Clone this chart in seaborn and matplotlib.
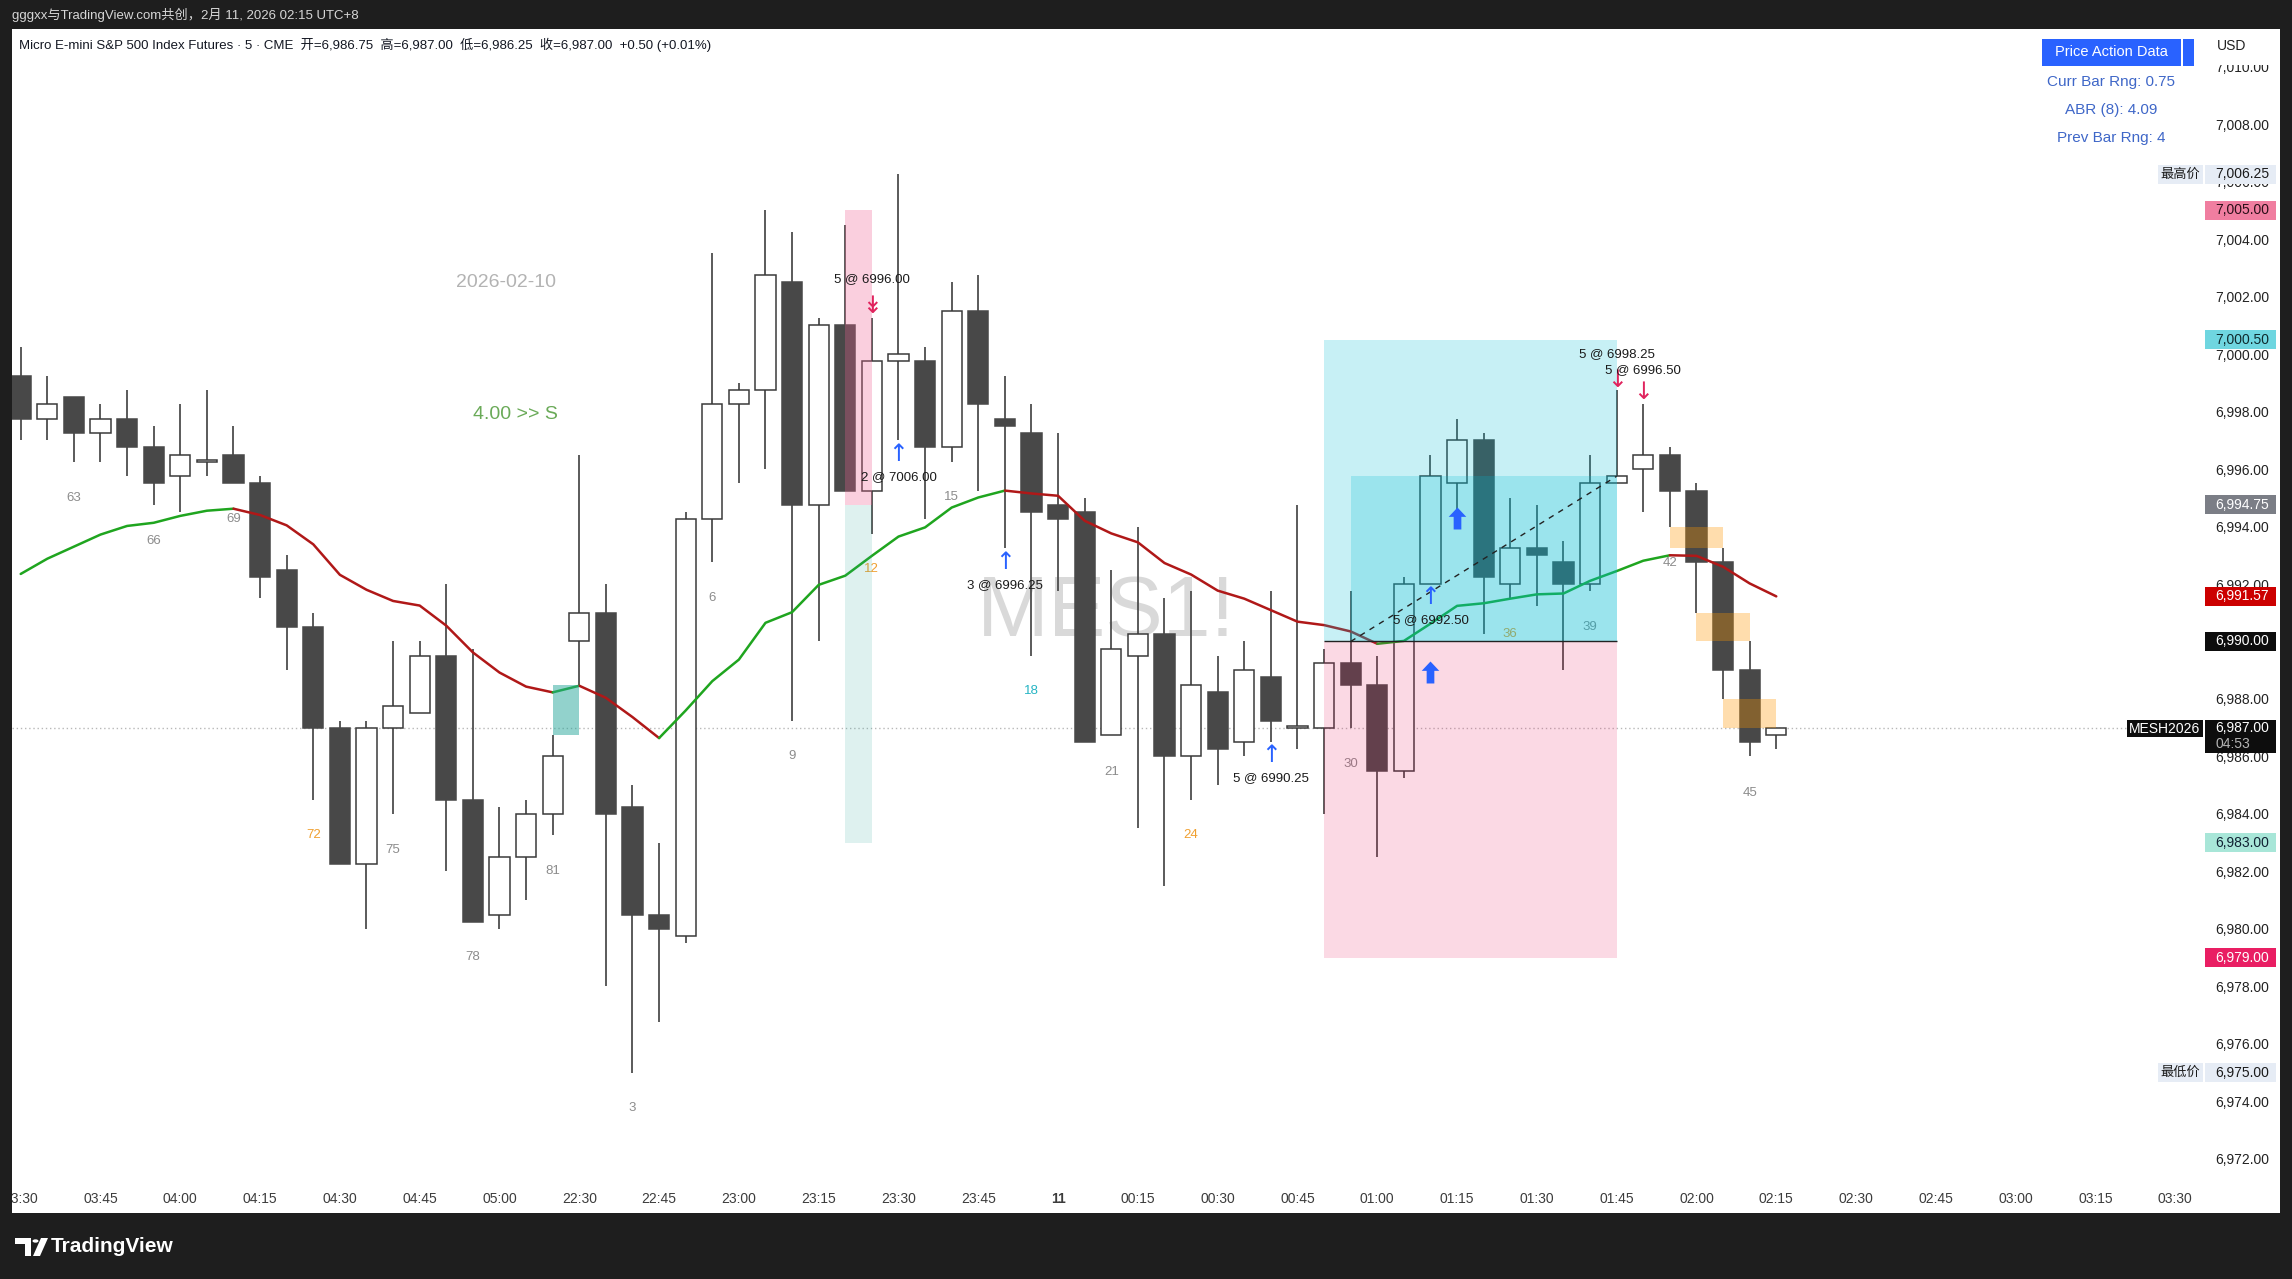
import matplotlib
import matplotlib.pyplot as plt
import matplotlib.transforms as mtransforms
import numpy as np
import pandas as pd
import seaborn as sns
from matplotlib.patches import Circle, Polygon, Rectangle
from matplotlib.path import Path

matplotlib.use("Agg")

# ---------------------------------------------------------------------------
# Data
# ---------------------------------------------------------------------------

bar_open = [
    6999.25, 6997.75, 6998.50, 6997.25, 6997.75, 6996.75, 6995.75, 6996.25, 6996.50, 6995.50,
    6992.50, 6990.50, 6987.00, 6982.25, 6987.00, 6987.50, 6989.50, 6984.50, 6980.50, 6982.50,
    6984.00, 6990.00, 6991.00, 6984.25, 6980.50, 6979.75, 6994.25, 6998.25, 6998.75, 7002.50,
    6994.75, 7001.00, 6995.25, 6999.75, 6999.75, 6996.75, 7001.50, 6997.75, 6997.25, 6994.75,
    6994.50, 6986.75, 6989.50, 6990.25, 6986.00, 6988.25, 6986.50, 6988.75, 6987.00, 6987.00,
    6989.25, 6988.50, 6985.50, 6992.00, 6995.50, 6997.00, 6992.00, 6993.25, 6992.75, 6992.00,
    6995.50, 6996.00, 6996.50, 6995.25, 6992.75, 6989.00, 6986.75,
]
bar_high = [
    7000.25, 6999.25, 6998.50, 6998.25, 6998.75, 6997.50, 6998.25, 6998.75, 6997.50, 6995.75,
    6993.00, 6991.00, 6987.25, 6987.25, 6990.00, 6990.00, 6992.00, 6989.75, 6984.25, 6984.50,
    6986.75, 6996.50, 6992.00, 6985.00, 6983.00, 6994.50, 7003.50, 6999.00, 7005.00, 7004.25,
    7001.25, 7004.50, 7001.25, 7006.25, 7000.25, 7002.50, 7002.75, 6999.25, 6998.25, 6997.25,
    6995.00, 6992.50, 6994.00, 6991.50, 6991.75, 6989.50, 6990.00, 6991.75, 6994.75, 6989.75,
    6991.75, 6989.50, 6992.25, 6996.50, 6997.75, 6997.25, 6995.00, 6994.75, 6993.50, 6996.50,
    6998.75, 6998.25, 6996.75, 6995.50, 6993.25, 6990.00, 6987.00,
]
bar_low = [
    6997.00, 6997.00, 6996.25, 6996.25, 6995.75, 6994.75, 6994.50, 6995.75, 6995.50, 6991.50,
    6989.00, 6984.50, 6982.25, 6980.00, 6984.00, 6987.50, 6982.00, 6980.25, 6980.00, 6981.00,
    6983.25, 6988.50, 6978.00, 6975.00, 6976.75, 6979.50, 6992.75, 6995.50, 6996.00, 6987.25,
    6990.00, 6995.25, 6993.75, 6997.00, 6994.25, 6996.25, 6995.25, 6993.25, 6989.50, 6991.75,
    6986.50, 6986.75, 6983.50, 6981.50, 6984.50, 6985.00, 6986.00, 6986.50, 6986.25, 6984.00,
    6987.00, 6982.50, 6985.25, 6992.00, 6994.00, 6990.25, 6991.50, 6991.25, 6989.00, 6991.75,
    6995.50, 6994.50, 6994.00, 6991.00, 6988.00, 6986.00, 6986.25,
]
bar_close = [
    6997.75, 6998.25, 6997.25, 6997.75, 6996.75, 6995.50, 6996.50, 6996.25, 6995.50, 6992.25,
    6990.50, 6987.00, 6982.25, 6987.00, 6987.75, 6989.50, 6984.50, 6980.25, 6982.50, 6984.00,
    6986.00, 6991.00, 6984.00, 6980.50, 6980.00, 6994.25, 6998.25, 6998.75, 7002.75, 6994.75,
    7001.00, 6995.25, 6999.75, 7000.00, 6996.75, 7001.50, 6998.25, 6997.50, 6994.50, 6994.25,
    6986.50, 6989.75, 6990.25, 6986.00, 6988.50, 6986.25, 6989.00, 6987.25, 6987.00, 6989.25,
    6988.50, 6985.50, 6992.00, 6995.75, 6997.00, 6992.25, 6993.25, 6993.00, 6992.00, 6995.50,
    6995.75, 6996.50, 6995.25, 6992.75, 6989.00, 6986.50, 6987.00,
]

ema_values = [
    6992.35, 6992.88, 6993.30, 6993.72, 6994.02, 6994.13, 6994.37, 6994.55, 6994.62, 6994.40,
    6994.04, 6993.38, 6992.32, 6991.80, 6991.41, 6991.25, 6990.55, 6989.62, 6988.92, 6988.43,
    6988.23, 6988.46, 6988.04, 6987.37, 6986.64, 6987.60, 6988.62, 6989.37, 6990.65, 6991.02,
    6991.97, 6992.29, 6992.98, 6993.65, 6993.97, 6994.66, 6995.01, 6995.25, 6995.15, 6995.07,
    6994.20, 6993.76, 6993.45, 6992.73, 6992.33, 6991.77, 6991.49, 6991.09, 6990.69, 6990.57,
    6990.35, 6989.92, 6990.02, 6990.62, 6991.24, 6991.33, 6991.49, 6991.64, 6991.67, 6992.11,
    6992.45, 6992.81, 6993.00, 6992.98, 6992.60, 6992.02, 6991.57,
]

time_labels = [
    "03:30", "03:45", "04:00", "04:15", "04:30", "04:45", "05:00", "22:30", "22:45", "23:00",
    "23:15", "23:30", "23:45", "11", "00:15", "00:30", "00:45", "01:00", "01:15", "01:30",
    "01:45", "02:00", "02:15", "02:30", "02:45", "03:00", "03:15", "03:30",
]

count_bars = [2, 5, 8, 11, 14, 17, 20, 23, 26, 29, 32, 35, 38, 41, 44, 50, 56, 59, 62, 65]
count_texts = ["63", "66", "69", "72", "75", "78", "81", "3", "6", "9", "12", "15", "18",
               "21", "24", "30", "36", "39", "42", "45"]
count_prices = [6994.99, 6993.51, 6994.26, 6983.25, 6982.76, 6979.01, 6982.01, 6973.78,
                6991.53, 6986.02, 6992.53, 6995.01, 6988.27, 6985.47, 6983.26, 6985.75,
                6990.27, 6990.52, 6992.74, 6984.73]
count_kinds = ["g", "g", "g", "o", "g", "g", "g", "g", "g", "g", "o", "g", "t",
               "g", "o", "g", "o", "g", "g", "g"]

trade_bars = [32, 33, 37, 47, 53, 60, 61]
trade_texts = ["5 @ 6996.00", "2 @ 7006.00", "3 @ 6996.25", "5 @ 6990.25",
               "5 @ 6992.50", "5 @ 6998.25", "5 @ 6996.50"]
trade_text_prices = [7002.60, 6995.73, 6991.97, 6985.25, 6990.74, 7000.00, 6999.44]
trade_arrow_prices = [7001.67, 6996.53, 6992.77, 6986.06, 6991.55, 6999.09, 6998.69]
trade_arrows = ["↡", "↑", "↑", "↑", "↑", "↓", "↓"]

signal_bars = [53, 54]
signal_prices = [6988.94, 6994.28]

# long position tool
pos_left, pos_right = 49, 60
pos_target, pos_entry, pos_stop = 7000.50, 6990.00, 6979.00
pnl_left, pnl_price = 50, 6995.75

# highlighted bar range
band_left, band_right = 31, 32
band_top, band_mid, band_bottom = 7005.00, 6994.75, 6983.00

# gap boxes
gap_left = [20, 62, 63, 64]
gap_right = [21, 64, 65, 66]
gap_top = [6988.50, 6994.00, 6991.00, 6988.00]
gap_bottom = [6986.75, 6993.25, 6990.00, 6987.00]
gap_kind = ["teal", "orange", "orange", "orange"]

tag_prices = [7006.25, 7005.00, 7000.50, 6994.75, 6991.57, 6990.00, 6983.00, 6979.00, 6975.00]
tag_bg = ["#e6ecf5", "#f07ea0", "#6fd6e0", "#7b7e86", "#cc0000", "#0d0d0d",
          "#a8e6d8", "#e91e63", "#e6ecf5"]
tag_fg = ["#1a1a1a", "#2a0f18", "#0f2a2d", "white", "white", "white",
          "#112233", "white", "#1a1a1a"]
last_price = 6987.00

# ---------------------------------------------------------------------------
# Figure
# ---------------------------------------------------------------------------

W, H = 2292, 1279
DARK = "#1e1e1e"

sns.set_style("white")
plt.rcParams["font.family"] = ["Liberation Sans", "Noto Sans CJK SC", "DejaVu Sans"]


def fx(px):
    return px / W


def fy(py):
    return 1 - py / H


fig = plt.figure(figsize=(W / 100, H / 100), dpi=100, facecolor=DARK)

# white chart panel
fig.add_artist(Rectangle((fx(12), fy(1213)), fx(2280) - fx(12), fy(29) - fy(1213),
                         transform=fig.transFigure, facecolor="white",
                         edgecolor="none", zorder=-1))

ax = fig.add_axes([fx(12), fy(1185), fx(2200) - fx(12), fy(29) - fy(1185)])
ax.set_facecolor("white")
for spine in ax.spines.values():
    spine.set_visible(False)

df = pd.DataFrame({"o": bar_open, "h": bar_high, "l": bar_low, "c": bar_close})
df["i"] = np.arange(len(df))
df["bottom"] = df[["o", "c"]].min(axis=1)
df["body"] = (df["c"] - df["o"]).abs().clip(lower=0.06)
up = df["c"] >= df["o"]

# watermark and session notes
ax.text(40.8, 6990.95, "MES1!", fontsize=62, color="#d9d9d9", ha="center",
        va="center", zorder=0.5)
ax.text(18.24, 7002.5, "2026-02-10", fontsize=14, color="#b3b3b3",
        ha="center", va="center", zorder=1)
ax.text(18.6, 6997.9, "4.00 >> S", fontsize=14, color="#6aaa58",
        ha="center", va="center", zorder=1)

ax.axhline(last_price, color="#b8b8b8", lw=1, ls=(0, (1, 2)), zorder=1)

# candles
ax.vlines(df["i"], df["l"], df["h"], color="#4d4d4d", lw=1.3, zorder=2)
ax.bar(df["i"][up], df["body"][up], bottom=df["bottom"][up], width=0.76,
       color="white", edgecolor="#3a3a3a", linewidth=1.1, zorder=3)
ax.bar(df["i"][~up], df["body"][~up], bottom=df["bottom"][~up], width=0.76,
       color="#484848", edgecolor="#484848", linewidth=1.1, zorder=3)

# bar counts
count_colors = {"g": "#8c8c8c", "o": "#f0a030", "t": "#26b5c4"}
for b, t, p, k in zip(count_bars, count_texts, count_prices, count_kinds):
    ax.text(b, p, t, fontsize=9.5, color=count_colors[k], ha="center",
            va="center", zorder=2.5)

# EMA coloured by slope
ema = np.array(ema_values)
idx = df["i"].to_numpy()
seg_up = np.diff(ema) > 0
start = 0
for k in range(1, len(seg_up) + 1):
    if k == len(seg_up) or seg_up[k] != seg_up[start]:
        sl = slice(start, k + 1)
        sns.lineplot(x=idx[sl], y=ema[sl], ax=ax, estimator=None, sort=False,
                     color="#1fa51f" if seg_up[start] else "#b01818",
                     lw=1.8, legend=False, zorder=4)
        start = k

# boxes
cyan = (0 / 255, 188 / 255, 212 / 255, 0.22)
pink = (233 / 255, 30 / 255, 99 / 255, 0.17)
ax.add_patch(Rectangle((pos_left, pos_entry), pos_right - pos_left,
                       pos_target - pos_entry, facecolor=cyan, edgecolor="none", zorder=5))
ax.add_patch(Rectangle((pnl_left, pos_entry), pos_right - pnl_left,
                       pnl_price - pos_entry, facecolor=cyan, edgecolor="none", zorder=5))
ax.add_patch(Rectangle((pos_left, pos_stop), pos_right - pos_left,
                       pos_entry - pos_stop, facecolor=pink, edgecolor="none", zorder=5))
ax.hlines(pos_entry, pos_left, pos_right, color="#222222", lw=1, zorder=6)
ax.plot([pnl_left, pos_right], [pos_entry, pnl_price], color="#222222", lw=1,
        ls=(0, (4, 4)), zorder=6)

ax.add_patch(Rectangle((band_left, band_mid), band_right - band_left, band_top - band_mid,
                       facecolor=(240 / 255, 98 / 255, 146 / 255, 0.3),
                       edgecolor="none", zorder=5))
ax.add_patch(Rectangle((band_left, band_bottom), band_right - band_left,
                       band_mid - band_bottom,
                       facecolor=(38 / 255, 166 / 255, 154 / 255, 0.15),
                       edgecolor="none", zorder=5))

gap_colors = {"teal": (38 / 255, 166 / 255, 154 / 255, 0.5),
              "orange": (1.0, 152 / 255, 0.0, 0.32)}
for l, r, t, b, k in zip(gap_left, gap_right, gap_top, gap_bottom, gap_kind):
    ax.add_patch(Rectangle((l, b), r - l, t - b, facecolor=gap_colors[k],
                           edgecolor="none", zorder=5))

# trade markers
for b, t, tp, ap, a in zip(trade_bars, trade_texts, trade_text_prices,
                           trade_arrow_prices, trade_arrows):
    col = "#2962ff" if a == "↑" else "#e0245e"
    ax.text(b, ap, a, fontsize=17, color=col, ha="center", va="center",
            family="DejaVu Sans", zorder=7)
    ax.text(b, tp, t, fontsize=9.5, color="#1a1a1a", ha="center", va="center",
            zorder=7)

arrow_path = Path([(0, 1), (0.8, 0.15), (0.35, 0.15), (0.35, -1), (-0.35, -1),
                   (-0.35, 0.15), (-0.8, 0.15), (0, 1)], closed=True)
ax.scatter(signal_bars, signal_prices, marker=arrow_path, s=250, color="#2962ff",
           linewidths=0, zorder=7)

# axes
ax.set_xticks(np.arange(0, 82, 3))
ax.set_xticklabels(time_labels)
ax.get_xticklabels()[13].set_fontweight("bold")
ax.tick_params(axis="x", length=0, pad=5, labelsize=10, labelcolor="#3c3c3c")

ax.yaxis.tick_right()
yt = np.arange(6972, 7011, 2)
ax.set_yticks(yt)
ax.set_yticklabels([f"{v:,.2f}" for v in yt])
ax.tick_params(axis="y", length=0, pad=10.8, labelsize=10, labelcolor="#222222")
ax.set_xlabel("")
ax.set_ylabel("")

# price tags on the scale
tag_tr = mtransforms.blended_transform_factory(fig.transFigure, ax.transData)


def price_tag(price, text, bg, fg, top=None, bottom=None, x0=2205, x1=2276):
    top = price + 0.33 if top is None else top
    bottom = price - 0.33 if bottom is None else bottom
    ax.add_patch(Rectangle((fx(x0), bottom), fx(x1) - fx(x0), top - bottom,
                           transform=tag_tr, facecolor=bg, edgecolor="none",
                           clip_on=False, zorder=8))
    ax.text(fx(2215), price, text, transform=tag_tr, ha="left", va="center",
            fontsize=10, color=fg, clip_on=False, zorder=9)


for p, bg, fg in zip(tag_prices, tag_bg, tag_fg):
    price_tag(p, f"{p:,.2f}", bg, fg)

for p, name in [(tag_prices[0], "最高价"), (tag_prices[-1], "最低价")]:
    ax.add_patch(Rectangle((fx(2158), p - 0.33), fx(2203) - fx(2158), 0.66,
                           transform=tag_tr, facecolor="#e6ecf5", edgecolor="none",
                           clip_on=False, zorder=8))
    ax.text(fx(2180), p, name, transform=tag_tr, ha="center", va="center",
            fontsize=9.5, color="#1a1a1a", clip_on=False, zorder=9)

# last price tag (two lines) + symbol
price_tag(last_price, f"{last_price:,.2f}", "#0d0d0d", "white",
          top=last_price + 0.26, bottom=last_price - 0.87)
ax.text(fx(2215), last_price - 0.57, "04:53", transform=tag_tr, ha="left",
        va="center", fontsize=10, color="#b5b5b5", clip_on=False, zorder=9)
ax.add_patch(Rectangle((fx(2127), last_price - 0.34), fx(2203) - fx(2127), 0.60,
                       transform=tag_tr, facecolor="#0d0d0d", edgecolor="none",
                       clip_on=False, zorder=8))
ax.text(fx(2165), last_price - 0.04, "MESH2026", transform=tag_tr, ha="center",
        va="center", fontsize=10, color="white", clip_on=False, zorder=9)

ax.set_xlim(-0.327, 81.93)
ax.set_ylim(6971.09, 7011.31)

# ---------------------------------------------------------------------------
# Frame, header and legend boxes
# ---------------------------------------------------------------------------

fig.add_artist(Rectangle((0, 0), fx(12), 1, transform=fig.transFigure,
                         facecolor=DARK, edgecolor="none", zorder=10))
fig.add_artist(Rectangle((fx(2205), fy(65)), fx(2280) - fx(2205), fy(29) - fy(65),
                         transform=fig.transFigure, facecolor="white",
                         edgecolor="none", zorder=2.5))
fig.text(fx(2232), fy(46), "USD", fontsize=10, color="#222222", ha="center",
         va="center", zorder=4)

fig.text(fx(12), fy(15), "gggxx与TradingView.com共创，2月 11, 2026 02:15 UTC+8",
         fontsize=9.5, color="#d6d6d6", ha="left", va="center")
fig.text(fx(19), fy(45),
         "Micro E-mini S&P 500 Index Futures · 5 · CME  开=6,986.75  高=6,987.00  "
         "低=6,986.25  收=6,987.00  +0.50 (+0.01%)",
         fontsize=9.5, color="#131722", ha="left", va="center")

fig.add_artist(Rectangle((fx(2042), fy(66)), fx(2181) - fx(2042), fy(39) - fy(66),
                         transform=fig.transFigure, facecolor="#2962ff",
                         edgecolor="none", zorder=3))
fig.add_artist(Rectangle((fx(2183), fy(66)), fx(2194) - fx(2183), fy(39) - fy(66),
                         transform=fig.transFigure, facecolor="#2962ff",
                         edgecolor="none", zorder=3))
fig.text(fx(2111), fy(52.5), "Price Action Data", fontsize=10.5, color="white",
         ha="center", va="center", zorder=4)
for yy, txt in [(82, "Curr Bar Rng: 0.75"), (110, "ABR (8): 4.09"), (138, "Prev Bar Rng: 4")]:
    fig.text(fx(2111), fy(yy), txt, fontsize=11, color="#3f67c8", ha="center",
             va="center", zorder=4)

# TradingView logo in the footer
logo = dict(transform=fig.transFigure, facecolor="white", edgecolor="none")
fig.add_artist(Polygon([(fx(15), fy(1238)), (fx(31), fy(1238)), (fx(31), fy(1256)),
                        (fx(25), fy(1256)), (fx(25), fy(1244)), (fx(15), fy(1244))], **logo))
fig.add_artist(Circle((fx(35.5), fy(1241)), fx(3), **logo))
fig.add_artist(Polygon([(fx(33), fy(1256)), (fx(41), fy(1238)), (fx(48), fy(1238)),
                        (fx(40), fy(1256))], **logo))
fig.text(fx(51), fy(1247), "TradingView", fontsize=15, fontweight="bold",
         color="white", ha="left", va="center")

fig.savefig("out.png", dpi=100, facecolor=DARK)
